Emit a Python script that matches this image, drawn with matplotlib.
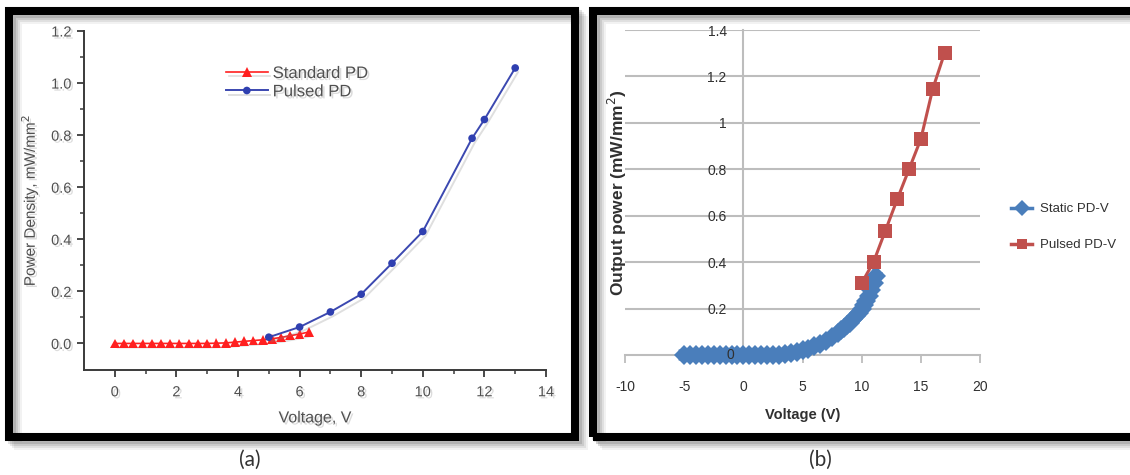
import matplotlib
matplotlib.use("Agg")
import matplotlib.pyplot as plt
from matplotlib.patches import Rectangle
import matplotlib.patheffects as pe

W, H = 1130, 475

# ---------------- data: panel (a) ----------------
std_v = [0.0, 0.3, 0.6, 0.9, 1.2, 1.5, 1.8, 2.1, 2.4, 2.7, 3.0, 3.3, 3.6,
         3.9, 4.2, 4.5, 4.8, 5.1, 5.4, 5.7, 6.0, 6.3]
std_p = [0.0, 0.0, 0.0, 0.0, 0.0, 0.0, 0.0, 0.0, 0.0, 0.0, 0.0, 0.001, 0.002,
         0.005, 0.008, 0.011, 0.014, 0.018, 0.023, 0.030, 0.036, 0.044]
pul_v = [5, 6, 7, 8, 9, 10, 11.6, 12, 13]
pul_p = [0.024, 0.063, 0.121, 0.189, 0.308, 0.43, 0.788, 0.86, 1.058]
a_xticks = [0, 2, 4, 6, 8, 10, 12, 14]
a_yticks = [0.0, 0.2, 0.4, 0.6, 0.8, 1.0, 1.2]

# ---------------- data: panel (b) ----------------
static_v = [-5.0, -4.5, -4.0, -3.5, -3.0, -2.5, -2.0, -1.5, -1.0, -0.5, 0.0,
            0.5, 1.0, 1.5, 2.0, 2.5, 3.0, 3.5, 4.0, 4.5, 5.0, 5.5, 6.0, 6.5,
            7.0, 7.5, 8.0, 8.25, 8.5, 8.75, 9.0, 9.25, 9.5, 9.75, 10.0, 10.2,
            10.4, 10.6, 10.8, 11.0, 11.2]
static_p = [0, 0, 0, 0, 0, 0, 0, 0, 0, 0, 0,
            0, 0, 0, 0.001, 0.001, 0.002, 0.004, 0.008, 0.013, 0.02, 0.028, 0.037, 0.048,
            0.062, 0.078, 0.096, 0.106, 0.117, 0.128, 0.14, 0.153, 0.167, 0.183, 0.2, 0.215,
            0.233, 0.253, 0.28, 0.31, 0.34]
pulsed_v = [10, 11, 12, 13, 14, 15, 16, 17]
pulsed_p = [0.31, 0.40, 0.535, 0.67, 0.80, 0.93, 1.145, 1.30]
b_xticks = [-10, -5, 0, 5, 10, 15, 20]
b_yticks = [0.2, 0.4, 0.6, 0.8, 1.0, 1.2, 1.4]
b_ytick_labels = ["0.2", "0.4", "0.6", "0.8", "1", "1.2", "1.4"]

fig = plt.figure(figsize=(W / 100, H / 100), dpi=100)
fig.patch.set_facecolor("white")


def fx(x):
    return x / W


def fy(y):
    return 1 - y / H


def frame(x0, y0, x1, y1):
    # soft drop shadow
    for k, a in [(9, 0.05), (7, 0.07), (5, 0.09), (3, 0.12)]:
        fig.patches.append(Rectangle((fx(x0 + k), fy(y1 + k)), fx(x1 - x0), (y1 - y0) / H,
                                     transform=fig.transFigure, fill=False,
                                     edgecolor="black", alpha=a, linewidth=5.8, zorder=0))
    fig.patches.append(Rectangle((fx(x0), fy(y1)), fx(x1 - x0), (y1 - y0) / H,
                                 transform=fig.transFigure, fill=False,
                                 edgecolor="black", linewidth=5.8, zorder=1))


frame(9, 11, 575, 437)
frame(593, 11, 1133, 437)

txt_shadow = [pe.SimplePatchShadow(offset=(1.5, -1.5), shadow_rgbFace="0.6", alpha=0.35), pe.Normal()]
line_shadow = [pe.SimpleLineShadow(offset=(2, -3), shadow_color="0.5", alpha=0.25), pe.Normal()]

# ---------------- panel (a) ----------------
axa = fig.add_axes([fx(84), fy(370), (546 - 84) / W, (370 - 31) / H])
axa.set_xlim(-1, 14)
axa.set_ylim(-0.102, 1.2)
for s in ["top", "right"]:
    axa.spines[s].set_visible(False)
for s in ["left", "bottom"]:
    axa.spines[s].set_color("#3a3a3a")
    axa.spines[s].set_linewidth(1.4)

axa.plot(std_v, std_p, color="#ff2020", marker="^", markersize=7, linewidth=1.2,
         markeredgewidth=0, label="Standard PD", path_effects=line_shadow, zorder=3)
axa.plot(pul_v, pul_p, color="#3b48b0", marker="o", markersize=5.5, linewidth=1.4,
         markerfacecolor="#2f3fb0", markeredgewidth=0, label="Pulsed PD",
         path_effects=line_shadow, zorder=4)

axa.set_xticks(a_xticks)
axa.set_xticks([v + 1 for v in a_xticks[:-1]], minor=True)
axa.set_yticks(a_yticks)
axa.set_yticklabels(["%.1f" % v for v in a_yticks])
axa.set_yticks([0.1, 0.3, 0.5, 0.7, 0.9, 1.1], minor=True)
axa.tick_params(which="major", direction="out", length=5, width=1.3, color="#3a3a3a",
                labelsize=10.5, labelcolor="#505050", pad=4)
axa.tick_params(which="minor", direction="out", length=3, width=1.1, color="#3a3a3a")
axa.tick_params(axis="x", pad=6)
for lab in axa.get_xticklabels() + axa.get_yticklabels():
    lab.set_fontfamily("Liberation Sans")
    lab.set_path_effects(txt_shadow)

axa.set_xlabel("Voltage, V", fontsize=11.5, color="#505050", family="Liberation Sans",
               labelpad=8, path_effects=txt_shadow)
axa.set_ylabel("Power Density, mW/mm$^2$", fontsize=11, color="#505050",
               family="Liberation Sans", labelpad=8, path_effects=txt_shadow)

lega = axa.legend(loc="upper left", bbox_to_anchor=(fx(226), fy(66)),
                  bbox_transform=fig.transFigure, frameon=False, borderpad=0,
                  borderaxespad=0, handlelength=2.5, handletextpad=0.3, labelspacing=0.2,
                  prop={"family": "Liberation Sans", "size": 12})
for t in lega.get_texts():
    t.set_color("#505050")
    t.set_path_effects(txt_shadow)

# ---------------- panel (b) ----------------
grey = "#bdbdbd"
lab_font = ["Liberation Sans Narrow", "Liberation Sans", "DejaVu Sans"]
axb = fig.add_axes([fx(625), fy(355), (980 - 625) / W, (355 - 30) / H])
axb.set_xlim(-10, 20)
axb.set_ylim(0, 1.4)
for s in ["top", "right"]:
    axb.spines[s].set_visible(False)
axb.spines["left"].set_position(("data", 0))
axb.spines["left"].set_color(grey)
axb.spines["left"].set_linewidth(1.5)
axb.spines["bottom"].set_color(grey)
axb.spines["bottom"].set_linewidth(1.5)
axb.yaxis.grid(True, color=grey, linewidth=1.5)

axb.plot(static_v, static_p, color="#4a7ebb", marker="D", markersize=10, linewidth=8,
         markeredgewidth=0, label="Static PD-V", clip_on=False, zorder=3)
axb.plot(pulsed_v, pulsed_p, color="#c0504d", marker="s", markersize=9.5, linewidth=2.2,
         markeredgewidth=0, label="Pulsed PD-V", clip_on=False, zorder=4)

axb.set_xticks(b_xticks)
axb.set_xticklabels([str(v) for v in b_xticks])
axb.set_yticks(b_yticks)
axb.set_yticklabels(b_ytick_labels)
axb.tick_params(axis="x", direction="out", length=6, width=1.3, color=grey,
                labelsize=10, labelcolor="#303030", pad=12)
axb.tick_params(axis="y", length=0, labelsize=10, labelcolor="#303030", pad=12)
for lab in axb.get_xticklabels() + axb.get_yticklabels():
    lab.set_fontfamily(lab_font)

axb.text(-0.8, 0, "0", fontsize=10, color="#303030", family=lab_font,
         ha="right", va="center", zorder=6)

axb.set_xlabel("Voltage (V)", fontsize=10.5, fontweight="bold", color="#303030",
               family=lab_font, labelpad=10)
axb.set_ylabel("Output power (mW/mm$^2$)", fontsize=12.5, fontweight="bold",
               color="#303030", family=lab_font)
axb.yaxis.set_label_coords((629 - 625) / 355, 0.5)

legb = axb.legend(loc="upper left", bbox_to_anchor=(fx(1011), fy(203)),
                  bbox_transform=fig.transFigure, frameon=False, borderpad=0,
                  borderaxespad=0, handlelength=1.6, handletextpad=0.6, labelspacing=1.8,
                  markerscale=0.8, prop={"family": lab_font, "size": 9.5})
for t in legb.get_texts():
    t.set_color("#303030")
for ln in legb.get_lines():
    ln.set_linewidth(2.5)

# ---------------- captions ----------------
fig.text(fx(250), fy(460), "(a)", fontsize=15, family=["Lato", "DejaVu Sans"],
         color="#333333", ha="center", va="center")
fig.text(fx(820), fy(460), "(b)", fontsize=15, family=["Lato", "DejaVu Sans"],
         color="#333333", ha="center", va="center")

fig.savefig("out.png", dpi=100, facecolor="white")
